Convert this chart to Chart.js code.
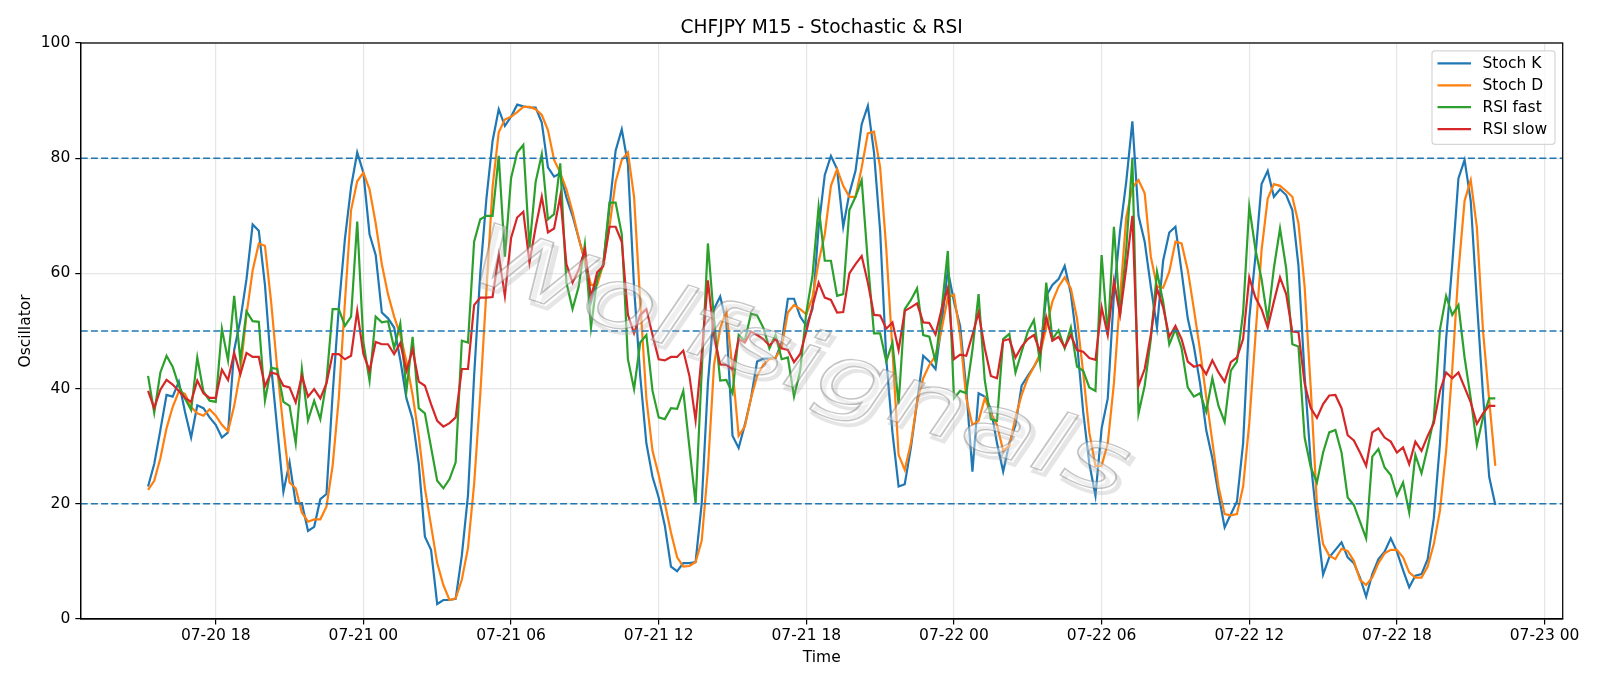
<!DOCTYPE html>
<html>
<head>
<meta charset="utf-8">
<title>CHFJPY M15 - Stochastic & RSI</title>
<script src="https://cdn.jsdelivr.net/npm/chart.js@4.4.3/dist/chart.umd.min.js"></script>
<style>
  html, body { margin:0; padding:0; background:#fff; }
  #wrap { width:1600px; height:686px; }
</style>
</head>
<body>
<div id="wrap"><canvas id="chart" width="1600" height="686"></canvas></div>
<script>
/* CHFJPY M15 — Stochastic K/D + fast/slow RSI
   15-minute bars, 07-20 15:15 -> 07-22 22:00 */

const START_HOUR = 15.25;   // hours after 07-20 00:00
const STEP_HOUR  = 0.25;    // M15

const stochK = [
  23.0,26.9,32.8,38.9,38.6,41.2,36.0,31.5,37.1,36.6,35.0,33.7,31.5,32.4,46.7,51.9,59.0,68.5,67.4,58.0,
  44.0,33.0,22.1,27.2,20.1,20.1,15.3,16.0,20.8,21.7,39.0,54.0,66.0,75.0,81.0,77.5,66.8,63.2,53.2,52.2,
  50.6,45.0,38.3,34.7,27.0,14.3,12.0,2.6,3.3,3.3,3.5,11.0,21.4,42.2,60.0,73.0,83.0,88.5,85.6,87.2,
  89.3,89.0,88.8,88.8,86.2,78.4,76.8,77.4,73.2,70.0,66.1,62.2,55.1,59.1,61.6,71.4,81.3,85.0,79.0,57.6,
  42.2,30.5,24.7,21.1,16.2,9.1,8.3,9.7,9.7,9.9,20.1,40.9,53.8,56.0,51.5,31.8,29.7,33.7,38.3,44.7,
  45.2,45.2,45.3,48.0,55.6,55.6,52.5,50.9,53.8,68.0,77.1,80.4,78.1,68.1,73.9,77.8,85.9,89.1,81.0,67.4,
  45.1,32.4,23.0,23.4,29.8,37.6,45.7,44.7,43.4,51.2,60.6,55.1,50.9,40.0,25.6,39.2,38.6,36.5,30.5,25.6,
  30.5,33.7,40.5,42.2,43.8,45.7,56.1,58.0,59.0,61.3,56.5,48.0,36.0,27.0,21.4,33.1,38.3,56.4,67.4,75.9,
  86.4,70.0,65.5,57.7,50.6,62.2,67.1,68.1,60.3,52.2,47.3,40.9,32.8,27.9,21.7,15.9,18.2,20.4,30.5,52.2,
  62.9,75.5,77.8,73.3,74.6,73.6,71.0,61.3,42.2,27.2,16.9,7.7,10.7,12.0,13.3,10.7,9.7,7.2,3.9,7.8,
  10.4,11.7,14.0,11.7,8.5,5.5,7.5,7.8,10.4,17.5,30.5,48.6,61.6,76.5,79.7,72.6,55.1,38.9,24.7,19.8
];

const stochD = [
  22.4,24.0,27.9,33.1,36.8,39.5,39.1,36.8,35.7,35.3,36.4,35.3,33.7,32.6,37.0,42.9,52.8,60.5,65.2,64.8,
  55.1,43.4,33.1,23.7,22.7,18.5,16.9,17.3,17.3,19.5,26.6,38.3,55.0,71.0,76.0,77.5,74.6,68.7,61.6,56.4,
  52.5,49.3,44.7,38.9,31.8,22.7,16.2,9.7,5.9,3.3,3.6,6.8,12.3,23.4,39.0,57.0,75.0,84.5,86.7,87.2,
  88.0,88.9,88.9,88.5,87.5,84.9,79.7,77.5,74.6,70.7,66.1,62.2,58.0,58.0,61.6,68.1,75.9,79.7,81.0,73.3,
  55.1,38.3,29.2,25.0,20.1,15.0,10.7,9.1,9.2,9.9,13.6,26.0,44.1,50.5,53.5,43.4,31.8,33.4,38.3,42.2,
  44.1,45.1,45.3,47.3,53.2,54.5,53.8,52.9,55.8,62.0,66.8,75.2,78.1,75.2,73.3,73.3,78.4,84.3,84.6,78.4,
  64.2,46.7,28.5,25.9,30.5,37.6,41.8,44.1,45.7,50.3,55.8,56.3,49.3,38.3,33.7,34.4,38.3,35.7,33.7,29.2,
  30.1,35.0,38.9,41.8,43.8,46.0,50.6,55.1,57.7,59.3,57.4,52.2,42.8,32.4,26.6,26.6,30.5,40.9,55.8,69.7,
  74.9,76.2,73.9,62.9,57.7,57.5,60.3,65.5,65.2,60.6,53.8,46.7,38.6,30.8,23.0,18.2,18.0,18.2,23.0,34.0,
  49.0,64.0,73.0,75.5,75.2,74.3,73.3,68.7,57.7,40.0,20.0,13.0,11.0,10.4,12.2,11.8,10.1,6.8,5.9,7.2,
  9.7,11.4,12.0,12.0,10.7,8.1,7.2,7.2,9.1,13.0,18.8,29.2,43.4,60.3,72.6,76.2,68.0,50.0,38.0,26.6
];

const rsiFast = [
  42.2,35.8,42.8,45.7,43.8,40.5,38.3,36.3,45.4,39.5,37.9,37.7,50.4,44.9,56.1,44.9,53.4,51.7,51.6,37.9,
  43.6,43.4,37.7,37.0,30.5,43.4,34.5,37.9,34.7,41.2,53.8,53.8,50.9,52.5,69.0,48.0,41.4,52.5,51.5,51.7,
  47.0,51.3,39.6,49.0,36.6,35.7,29.8,24.0,22.7,24.3,27.2,48.3,48.0,65.5,69.4,70.0,70.0,80.4,62.9,76.5,
  81.0,82.3,64.5,75.9,80.7,69.4,70.3,79.1,58.4,53.8,57.7,65.0,50.6,59.0,61.6,72.3,72.3,66.8,45.1,39.9,
  48.0,49.3,39.6,35.0,34.7,36.6,36.5,39.6,29.8,20.1,43.0,65.2,52.0,41.4,41.5,39.2,49.3,48.3,53.0,52.7,
  50.6,47.0,49.3,45.1,45.4,38.6,43.1,53.2,59.6,71.6,62.2,62.2,56.1,56.4,71.0,73.3,76.2,62.0,49.6,49.6,
  44.7,48.0,37.3,53.8,55.4,57.4,49.3,49.0,44.7,53.8,63.9,38.3,39.6,39.2,46.7,56.4,41.5,34.7,34.4,48.6,
  49.5,42.8,46.4,49.9,51.9,44.4,58.4,48.6,50.1,47.0,50.6,43.8,43.1,40.2,39.6,63.2,49.3,68.1,52.8,64.2,
  79.9,35.7,40.5,48.6,60.3,55.1,47.7,50.3,47.0,40.2,38.6,39.2,36.0,41.8,37.0,34.2,43.1,44.7,53.2,71.6,
  64.2,59.0,51.9,60.9,67.8,60.9,47.7,47.3,31.5,26.3,23.7,28.9,32.4,32.8,28.9,21.1,19.8,16.9,14.0,28.2,
  29.5,26.3,25.0,21.4,23.7,18.5,28.5,25.3,29.8,34.7,50.3,56.1,52.8,54.5,45.4,38.3,30.2,35.0,38.3,38.3
];

const rsiSlow = [
  39.6,36.6,39.8,41.5,40.7,39.6,38.4,37.7,41.4,39.2,38.4,38.4,43.3,41.5,46.2,42.5,46.2,45.5,45.5,40.4,
  42.8,42.5,40.5,40.2,37.6,42.2,38.6,39.9,38.3,40.9,46.0,46.0,45.1,45.7,53.5,46.0,43.1,48.1,47.7,47.7,
  46.0,47.9,43.1,46.8,41.2,40.5,37.3,34.4,33.4,34.0,35.0,43.4,43.4,54.5,55.8,55.8,55.9,63.2,56.1,66.1,
  69.7,70.7,61.9,68.0,73.3,67.1,67.8,73.4,61.6,58.4,60.6,64.2,55.8,60.2,61.3,68.1,68.1,65.5,52.8,49.6,
  52.8,53.8,49.3,45.1,44.9,45.5,45.5,46.6,42.2,34.5,46.0,58.8,49.0,44.2,44.1,43.3,48.6,48.0,49.9,49.3,
  48.6,47.5,48.6,47.0,46.7,44.6,46.0,49.9,54.3,58.4,55.8,55.4,53.2,53.3,60.0,61.6,63.0,58.4,52.8,52.7,
  50.4,51.5,46.7,53.5,54.1,54.8,51.5,51.4,49.4,53.8,57.4,45.1,45.9,45.7,49.3,53.2,47.0,42.2,41.8,48.3,
  48.6,45.4,47.3,48.6,49.3,46.4,52.4,48.3,49.0,47.2,49.3,46.7,46.4,45.3,45.0,54.1,49.3,58.7,52.8,60.9,
  70.0,40.5,43.4,49.3,57.4,54.1,49.0,50.9,48.6,44.7,43.8,44.1,42.5,44.9,42.8,41.2,44.6,45.4,48.6,59.3,
  55.8,53.8,50.6,55.1,59.3,56.4,49.9,49.8,40.9,36.6,34.9,37.3,38.8,38.9,36.6,31.9,31.0,28.9,26.6,32.4,
  33.1,31.5,30.8,28.9,29.8,26.9,30.8,29.2,31.8,34.0,39.6,42.8,41.8,42.8,40.2,37.6,33.9,35.7,37.0,37.0
];

const seriesNames  = ['Stoch K', 'Stoch D', 'RSI fast', 'RSI slow'];
const seriesColors = ['#1f77b4', '#ff7f0e', '#2ca02c', '#d62728'];
const levels       = [80, 50, 20];
const yTicks       = [0, 20, 40, 60, 80, 100];
const tickHours    = [18, 24, 30, 36, 42, 48, 54, 60, 66, 72];
const tickLabels   = ['07-20 18','07-21 00','07-21 06','07-21 12','07-21 18',
                      '07-22 00','07-22 06','07-22 12','07-22 18','07-23 00'];

const TITLE     = 'CHFJPY M15 - Stochastic & RSI';
const WATERMARK = 'Wolfsignals';
const FONT      = '"DejaVu Sans", "Liberation Sans", sans-serif';

// x extent with matplotlib's 5% margin
const lastHour = START_HOUR + (stochK.length - 1) * STEP_HOUR;
const pad = (lastHour - START_HOUR) * 0.05;
const xMin = START_HOUR - pad, xMax = lastHour + pad;

const toPoints = arr => arr.map((v, i) => ({ x: START_HOUR + i * STEP_HOUR, y: v }));

const datasets = [stochK, stochD, rsiFast, rsiSlow].map((arr, k) => ({
  label: seriesNames[k], data: toPoints(arr),
  borderColor: seriesColors[k], backgroundColor: seriesColors[k],
  borderWidth: 2.2, pointRadius: 0, tension: 0, order: 10 - k
}));
levels.forEach(lv => datasets.push({
  label: 'level ' + lv, isLevel: true,
  data: [{ x: xMin, y: lv }, { x: xMax, y: lv }],
  borderColor: '#1f77b4', borderWidth: 1.5, borderDash: [7, 3.2],
  pointRadius: 0, order: 1
}));

/* ── frame, titles, watermark, legend ── */
const decor = {
  id: 'decor',
  afterDatasetsDraw(chart) {
    const { ctx, chartArea: a } = chart;
    // watermark: light outlined italic text with a soft offset shadow
    ctx.save();
    ctx.beginPath(); ctx.rect(a.left, a.top, a.right - a.left, a.bottom - a.top); ctx.clip();
    ctx.translate(798, 366);
    ctx.rotate(18.5 * Math.PI / 180);
    ctx.font = 'italic 84px ' + FONT;
    ctx.textAlign = 'center'; ctx.textBaseline = 'middle';
    const w = ctx.measureText(WATERMARK).width;
    ctx.scale(690 / w, 1);
    ctx.lineWidth = 3.5;
    ctx.strokeStyle = 'rgba(170,170,170,0.30)';
    ctx.strokeText(WATERMARK, 3, 3.5);
    ctx.fillStyle = 'rgba(255,255,255,0.40)';
    ctx.fillText(WATERMARK, 0, 0);
    ctx.lineWidth = 1.3;
    ctx.strokeStyle = 'rgba(110,110,110,0.40)';
    ctx.strokeText(WATERMARK, 0, 0);
    ctx.restore();

    // axes frame
    ctx.save();
    ctx.strokeStyle = '#000'; ctx.lineWidth = 1.25;
    ctx.strokeRect(a.left, a.top, a.right - a.left, a.bottom - a.top);
    ctx.restore();

    // legend box (upper right)
    const items = chart.data.datasets.filter(d => !d.isLevel);
    const bw = 123, bh = 93.5;
    const bx = a.right - 7.7 - bw, by = a.top + 7.8;
    ctx.save();
    ctx.fillStyle = 'rgba(255,255,255,0.8)';
    ctx.strokeStyle = 'rgba(204,204,204,0.8)';
    ctx.lineWidth = 1.2;
    ctx.beginPath(); ctx.roundRect(bx, by, bw, bh, 3); ctx.fill(); ctx.stroke();
    ctx.font = '15.5px ' + FONT;
    ctx.textBaseline = 'middle'; ctx.textAlign = 'left';
    items.forEach((d, i) => {
      const cy = by + 12.6 + i * 21.9;
      ctx.strokeStyle = d.borderColor; ctx.lineWidth = 2.2;
      ctx.beginPath(); ctx.moveTo(bx + 5.5, cy); ctx.lineTo(bx + 39, cy); ctx.stroke();
      ctx.fillStyle = '#000';
      ctx.fillText(d.label, bx + 50.5, cy + 1);
    });
    ctx.restore();
  },
  afterDraw(chart) {
    const { ctx, chartArea: a } = chart;
    ctx.save();
    ctx.fillStyle = '#000';
    ctx.textAlign = 'center'; ctx.textBaseline = 'middle';
    ctx.font = '18.6px ' + FONT;
    ctx.fillText(TITLE, (a.left + a.right) / 2, 28.5);
    ctx.font = '15.5px ' + FONT;
    ctx.fillText('Time', (a.left + a.right) / 2, 657.5);
    ctx.translate(26, (a.top + a.bottom) / 2);
    ctx.rotate(-Math.PI / 2);
    ctx.fillText('Oscillator', 0, 0);
    ctx.restore();
  }
};

Chart.defaults.font.family = FONT;
Chart.defaults.font.size = 15.5;
Chart.defaults.color = '#000';

new Chart(document.getElementById('chart'), {
  type: 'line',
  data: { datasets },
  options: {
    responsive: false, animation: false, devicePixelRatio: 1,
    layout: { padding: { top: 43, right: 37.3, bottom: 0, left: 0 } },
    plugins: { legend: { display: false }, tooltip: { enabled: false }, title: { display: false } },
    scales: {
      x: {
        type: 'linear', min: xMin, max: xMax,
        afterBuildTicks: s => { s.ticks = tickHours.map(v => ({ value: v })); },
        afterFit: s => { s.height = 67; },
        ticks: { callback: v => tickLabels[tickHours.indexOf(v)] ?? '', padding: 2.5, maxRotation: 0, autoSkip: false },
        grid: { color: '#e6e6e6', lineWidth: 1.2, tickColor: '#000', tickLength: 5.4, tickWidth: 1.2 },
        border: { color: '#000', width: 1.25 }
      },
      y: {
        min: 0, max: 100,
        afterBuildTicks: s => { s.ticks = yTicks.map(v => ({ value: v })); },
        afterFit: s => { s.width = 80.7; },
        ticks: { padding: 5, autoSkip: false },
        grid: { color: '#e6e6e6', lineWidth: 1.2, tickColor: '#000', tickLength: 5.4, tickWidth: 1.2 },
        border: { color: '#000', width: 1.25 }
      }
    }
  },
  plugins: [decor]
});
</script>
</body>
</html>
